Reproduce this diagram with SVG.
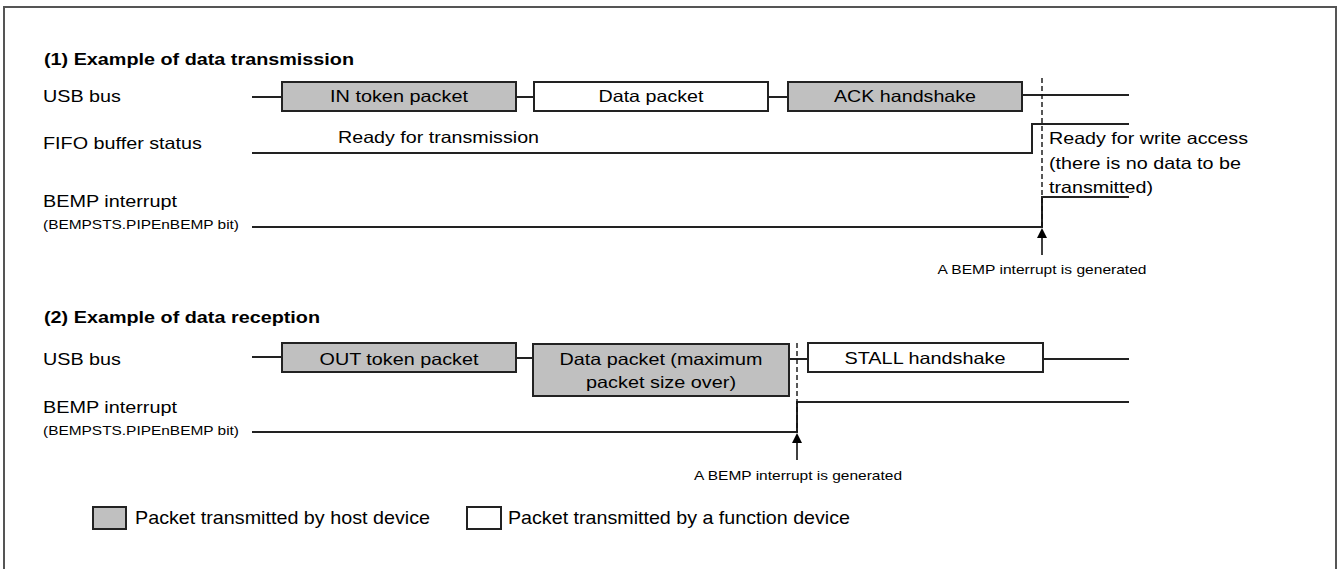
<svg xmlns="http://www.w3.org/2000/svg" width="1339" height="569" viewBox="0 0 1339 569">
<style>
text{font-family:"Liberation Sans",Arial,sans-serif;fill:#000}
.t{font-size:16.5px;font-weight:bold}
.l{font-size:16.5px}
.s{font-size:12px}
.n{font-size:13px}
.g{font-size:18.5px}
.c{text-anchor:middle}
.sig{fill:none;stroke:#222;stroke-width:2}
.box{stroke:#222;stroke-width:2}
.host{fill:#c0c0c0}
.func{fill:#fff}
.dash{stroke:#111;stroke-width:1.4;stroke-dasharray:5,3;fill:none}
.arr{stroke:#000;stroke-width:1.5;fill:none}
.head{fill:#000}
</style>
<rect x="4" y="7" width="1332" height="566" fill="none" stroke="#555" stroke-width="2"/>

<g id="section1">
<text class="t" x="44" y="65" textLength="310" lengthAdjust="spacingAndGlyphs">(1) Example of data transmission</text>
<text class="l" x="43" y="102" textLength="78" lengthAdjust="spacingAndGlyphs">USB bus</text>
<text class="l" x="43" y="149" textLength="159" lengthAdjust="spacingAndGlyphs">FIFO buffer status</text>
<text class="l" x="43" y="207" textLength="134" lengthAdjust="spacingAndGlyphs">BEMP interrupt</text>
<text class="s" x="43" y="229" textLength="196" lengthAdjust="spacingAndGlyphs">(BEMPSTS.PIPEnBEMP bit)</text>
</g>

<g id="in-token">
<rect class="box host" x="282" y="82" width="234" height="29"/>
<text class="l c" x="399" y="102" textLength="138" lengthAdjust="spacingAndGlyphs">IN token packet</text>
</g>
<g id="data-packet-1">
<rect class="box func" x="534" y="82" width="234" height="29"/>
<text class="l c" x="651" y="102" textLength="105" lengthAdjust="spacingAndGlyphs">Data packet</text>
</g>
<g id="ack">
<rect class="box host" x="788" y="82" width="234" height="29"/>
<text class="l c" x="905" y="102" textLength="142" lengthAdjust="spacingAndGlyphs">ACK handshake</text>
</g>
<g id="fifo-labels">
<text class="l" x="338" y="143" textLength="201" lengthAdjust="spacingAndGlyphs">Ready for transmission</text>
<text class="l" x="1049" y="144" textLength="199" lengthAdjust="spacingAndGlyphs">Ready for write access</text>
<text class="l" x="1049" y="169" textLength="192" lengthAdjust="spacingAndGlyphs">(there is no data to be</text>
<text class="l" x="1049" y="193" textLength="104" lengthAdjust="spacingAndGlyphs">transmitted)</text>
<text class="n c" x="1042" y="274" textLength="209" lengthAdjust="spacingAndGlyphs">A BEMP interrupt is generated</text>
</g>

<g id="section2">
<text class="t" x="44" y="323" textLength="276" lengthAdjust="spacingAndGlyphs">(2) Example of data reception</text>
<text class="l" x="43" y="365" textLength="78" lengthAdjust="spacingAndGlyphs">USB bus</text>
<text class="l" x="43" y="413" textLength="134" lengthAdjust="spacingAndGlyphs">BEMP interrupt</text>
<text class="s" x="43" y="435" textLength="196" lengthAdjust="spacingAndGlyphs">(BEMPSTS.PIPEnBEMP bit)</text>
<text class="n c" x="798" y="480" textLength="208" lengthAdjust="spacingAndGlyphs">A BEMP interrupt is generated</text>
</g>
<g id="out-token">
<rect class="box host" x="282" y="343" width="234" height="29"/>
<text class="l c" x="399" y="365" textLength="159" lengthAdjust="spacingAndGlyphs">OUT token packet</text>
</g>
<g id="data-packet-2">
<rect class="box host" x="533" y="344" width="256" height="52"/>
<text class="l c" x="661" y="365" textLength="203" lengthAdjust="spacingAndGlyphs">Data packet (maximum</text>
<text class="l c" x="661" y="388" textLength="150" lengthAdjust="spacingAndGlyphs">packet size over)</text>
</g>
<g id="stall">
<rect class="box func" x="808" y="343" width="235" height="29"/>
<text class="l c" x="925" y="364" textLength="161" lengthAdjust="spacingAndGlyphs">STALL handshake</text>
</g>

<g id="legend">
<rect class="box host" x="93" y="507" width="33" height="22" stroke-width="1.5"/>
<text class="g" x="135" y="524" textLength="295" lengthAdjust="spacingAndGlyphs">Packet transmitted by host device</text>
<rect class="box func" x="467" y="507" width="34" height="22" stroke-width="1.5"/>
<text class="g" x="508" y="524" textLength="342" lengthAdjust="spacingAndGlyphs">Packet transmitted by a function device</text>
</g>

<g id="connectors">
<path class="sig" d="M252,97 H282 M516,97 H534 M768,97 H788 M1022,95 H1129"/>
<path class="sig" d="M252,153 H1032 V124 H1129"/>
<path class="sig" d="M252,227 H1042 V197 H1129"/>
<path class="dash" d="M1042,78 V227"/>
<path class="arr" d="M1042,255 V237"/>
<polygon class="head" points="1042,228 1047,238 1037,238"/>
<path class="sig" d="M252,357 H282 M516,358 H533 M789,359 H808 M1043,359 H1129"/>
<path class="sig" d="M252,432 H797 V402 H1129"/>
<path class="dash" d="M797,343 V432"/>
<path class="arr" d="M797,460 V442"/>
<polygon class="head" points="797,433 802,443 792,443"/>
</g>
</svg>
